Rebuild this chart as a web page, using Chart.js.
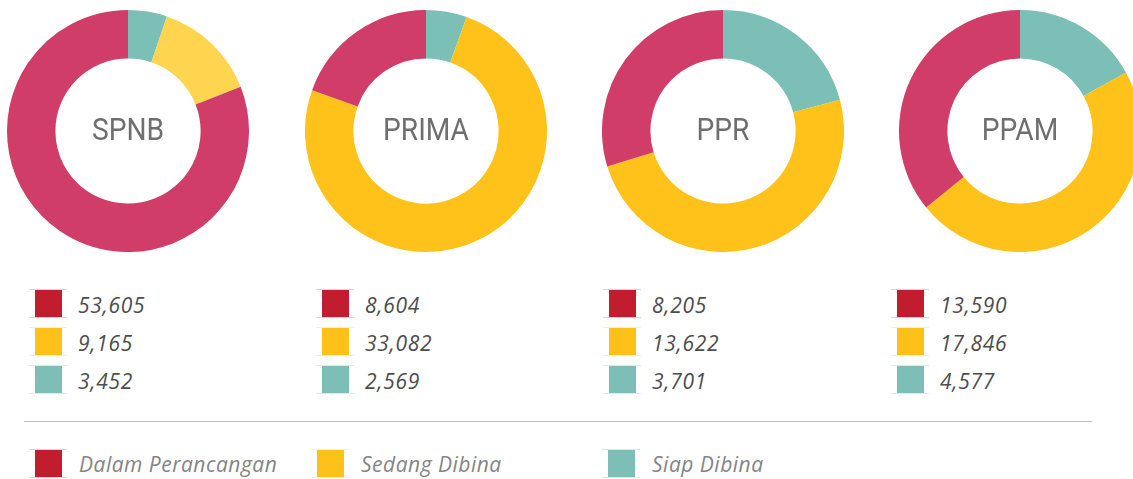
<!DOCTYPE html>
<html>
<head>
<meta charset="utf-8">
<script src="https://cdn.jsdelivr.net/npm/chart.js@4/dist/chart.umd.min.js"></script>
<style>
  html, body { margin:0; padding:0; background:#fff; width:1133px; height:479px; overflow:hidden; }
  #wrap { position:relative; width:1133px; height:479px; overflow:hidden; }
  .donut { position:absolute; top:10px; width:242px; height:242px; }
  .leg { position:absolute; height:27px; display:flex; align-items:center; }
  .sw { position:absolute; left:0; top:0; width:27px; height:27px; }
  .sw::before { content:""; position:absolute; left:-6px; right:-5px; top:-1px; height:1px; background:var(--fr); }
  .sw::after { content:""; position:absolute; left:-6px; right:-5px; bottom:-1px; height:1px; background:var(--fr); }
  .num { position:absolute; left:43px; top:50%; transform:translateY(-48%); font-family:"Open Sans", sans-serif; font-style:italic; font-size:21px; color:#4d4d4d; white-space:nowrap; letter-spacing:0.7px; }
  .lab { position:absolute; left:44px; top:50%; transform:translateY(-50%); font-family:"Open Sans", sans-serif; font-style:italic; font-size:21px; color:#858585; white-space:nowrap; letter-spacing:0.5px; }
  #rule { position:absolute; left:24px; width:1068px; top:421px; height:1px; border-top:1.5px solid #bdbdbd; }
</style>
</head>
<body>
<div id="wrap"></div>
<script>
// ---- data ----
const schemes = ['SPNB', 'PRIMA', 'PPR', 'PPAM'];
const statusLabels = ['Dalam Perancangan', 'Sedang Dibina', 'Siap Dibina'];
// values printed in the legends
const dalamPerancangan = [53605, 8604, 8205, 13590];
const sedangDibina = [9165, 33082, 13622, 17846];
const siapDibina = [3452, 2569, 3701, 4577];
// "Siap Dibina" slice sizes as drawn in the donuts
const siapDibinaSlice = [3452, 2400, 5750, 6430];

// ---- styles ----
const donutRed = '#CF3D68';
const donutYellow = ['#FFD54F', '#FFC21A', '#FFC21A', '#FFC21A'];
const donutTeal = '#7BBFB7';
const legendColors = ['#C11D2E', '#FEC11A', '#7DBFB7'];
const frameColors = ['#F4C9CE', '#FDEDC0', '#D6ECE9'];
const centersX = [128, 426, 723, 1020];
const legendX = [35, 322, 609, 897];
const legendRowY = [290, 328, 366];

const wrap = document.getElementById('wrap');

const centerText = {
  id: 'centerText',
  afterDraw(chart, args, opts) {
    const ctx = chart.ctx;
    const meta = chart.getDatasetMeta(0).data[0];
    if (!meta) return;
    ctx.save();
    ctx.fillStyle = '#6f6f6f';
    ctx.font = '400 32px Roboto, sans-serif';
    ctx.textAlign = 'center';
    ctx.textBaseline = 'middle';
    ctx.translate(meta.x, meta.y + 1);
    ctx.scale(0.88, 1);
    ctx.fillText(opts.text, 0, 0);
    ctx.restore();
  }
};

schemes.forEach((name, i) => {
  const d = document.createElement('div');
  d.className = 'donut';
  d.style.left = (centersX[i] - 121) + 'px';
  const c = document.createElement('canvas');
  d.appendChild(c);
  wrap.appendChild(d);
  new Chart(c, {
    type: 'doughnut',
    data: {
      labels: [statusLabels[2], statusLabels[1], statusLabels[0]],
      datasets: [{
        data: [siapDibinaSlice[i], sedangDibina[i], dalamPerancangan[i]],
        backgroundColor: [donutTeal, donutYellow[i], donutRed],
        borderWidth: 0,
        hoverOffset: 0
      }]
    },
    options: {
      responsive: true,
      maintainAspectRatio: false,
      animation: false,
      cutout: '60%',
      layout: { padding: 0 },
      plugins: {
        legend: { display: false },
        tooltip: { enabled: false },
        centerText: { text: name }
      }
    },
    plugins: [centerText]
  });

  const series = [dalamPerancangan, sedangDibina, siapDibina];
  series.forEach((arr, r) => {
    const l = document.createElement('div');
    l.className = 'leg';
    l.style.left = legendX[i] + 'px';
    l.style.top = legendRowY[r] + 'px';
    l.innerHTML = '<div class="sw" style="background:' + legendColors[r] + ';--fr:' + frameColors[r] + '"></div>' +
      '<div class="num">' + arr[i].toLocaleString('en-US') + '</div>';
    wrap.appendChild(l);
  });
});

const rule = document.createElement('div');
rule.id = 'rule';
wrap.appendChild(rule);

const bottomX = [35, 317, 608];
statusLabels.forEach((lab, k) => {
  const l = document.createElement('div');
  l.className = 'leg';
  l.style.left = bottomX[k] + 'px';
  l.style.top = '450px';
  l.innerHTML = '<div class="sw" style="background:' + legendColors[k] + ';--fr:' + frameColors[k] + '"></div>' +
    '<div class="lab">' + lab + '</div>';
  wrap.appendChild(l);
});
</script>
</body>
</html>
